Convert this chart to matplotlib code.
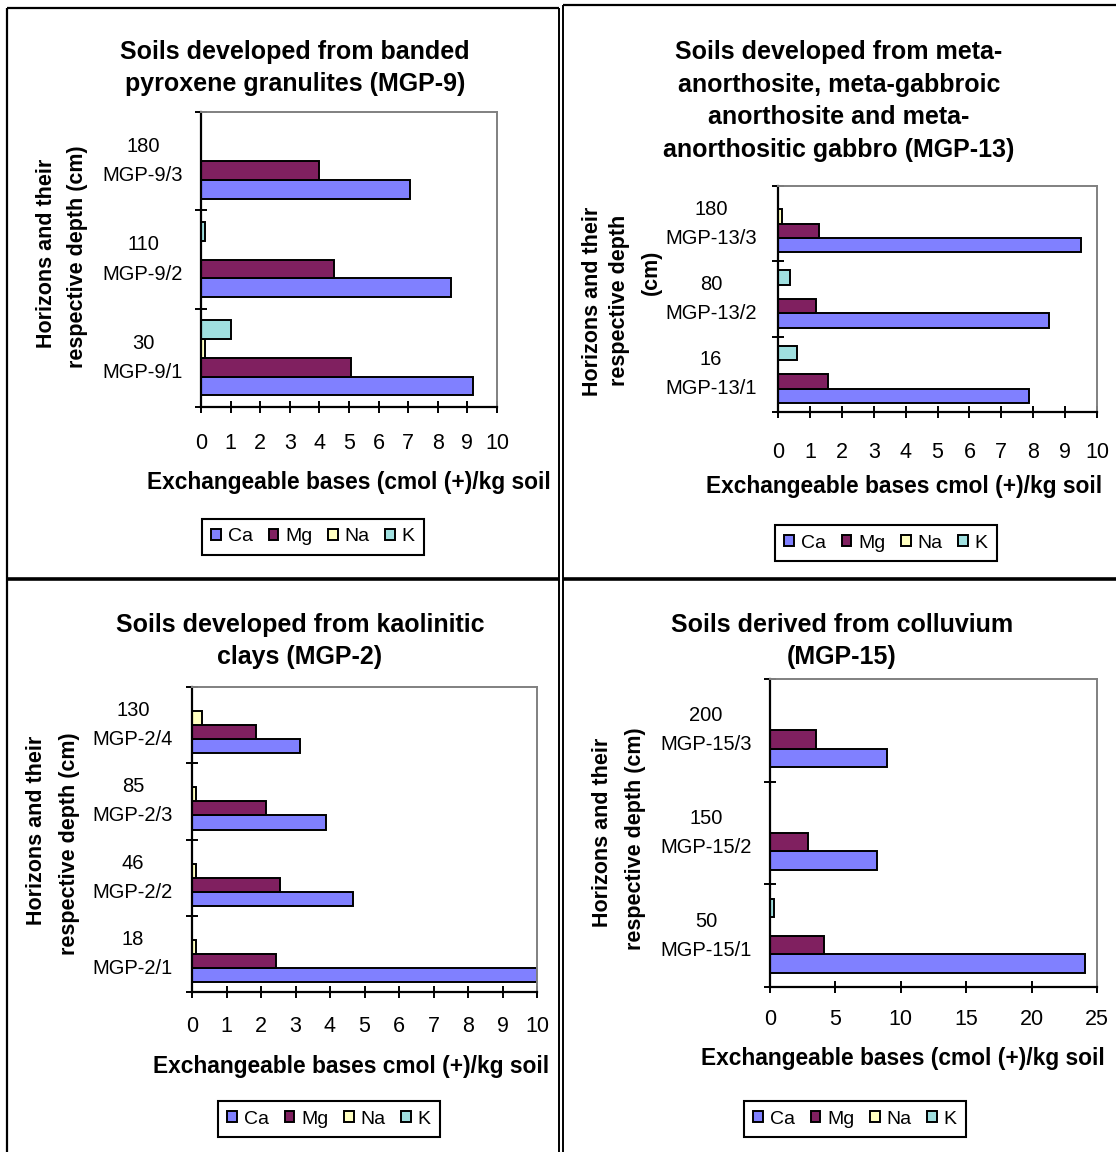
import matplotlib
matplotlib.use("Agg")
import matplotlib.pyplot as plt
from matplotlib.lines import Line2D
import numpy as np

plt.rcParams['font.family'] = ['Liberation Sans', 'DejaVu Sans']

# ---- data: exchangeable bases, cmol(+)/kg soil ----
series = ["Ca", "Mg", "Na", "K"]
colors = ["#8080FF", "#802060", "#FFFFC0", "#A0E0E0"]

# MGP-9 (banded pyroxene granulites)
mgp9_labels = ["30\nMGP-9/1", "110\nMGP-9/2", "180\nMGP-9/3"]
mgp9_ca = [9.2, 8.45, 7.05]
mgp9_mg = [5.07, 4.48, 4.0]
mgp9_na = [0.15, 0.0, 0.0]
mgp9_k = [1.01, 0.15, 0.0]

# MGP-13 (meta-anorthosite group)
mgp13_labels = ["16\nMGP-13/1", "80\nMGP-13/2", "180\nMGP-13/3"]
mgp13_ca = [7.87, 8.5, 9.51]
mgp13_mg = [1.58, 1.2, 1.28]
mgp13_na = [0.0, 0.0, 0.13]
mgp13_k = [0.58, 0.39, 0.0]

# MGP-2 (kaolinitic clays)
mgp2_labels = ["18\nMGP-2/1", "46\nMGP-2/2", "85\nMGP-2/3", "130\nMGP-2/4"]
mgp2_ca = [10.0, 4.68, 3.88, 3.13]
mgp2_mg = [2.43, 2.55, 2.14, 1.85]
mgp2_na = [0.12, 0.12, 0.12, 0.29]
mgp2_k = [0.0, 0.0, 0.0, 0.0]

# MGP-15 (colluvium)
mgp15_labels = ["50\nMGP-15/1", "150\nMGP-15/2", "200\nMGP-15/3"]
mgp15_ca = [24.1, 8.16, 8.93]
mgp15_mg = [4.16, 2.93, 3.55]
mgp15_na = [0.0, 0.0, 0.0]
mgp15_k = [0.33, 0.0, 0.0]

W, H = 1116, 1152
fig = plt.figure(figsize=(W / 100, H / 100), dpi=100)


def px_axes(x0, y0, x1, y1):
    return fig.add_axes([x0 / W, 1 - y1 / H, (x1 - x0) / W, (y1 - y0) / H])


def ftext(x, y, s, **kw):
    kw.setdefault("ha", "center")
    kw.setdefault("va", "center")
    fig.text(x / W, 1 - y / H, s, **kw)


def panel(box, labels, values, xmax, xstep, xpad, ypad, bar_h):
    ax = px_axes(*box)
    n = len(labels)
    y = np.arange(n)
    offsets = (np.arange(4) - 1.5) * bar_h
    for vals, off, col, name in zip(values, offsets, colors, series):
        ax.barh(y + off, vals, height=bar_h, color=col, edgecolor="black",
                linewidth=1.4, label=name, zorder=2)
    ax.set_xlim(0, xmax)
    ax.set_ylim(-0.5, n - 0.5)
    ax.set_xticks(np.arange(0, xmax + 0.001, xstep))
    ax.set_yticks(np.arange(n + 1) - 0.5)
    ax.set_yticklabels([])
    ax.set_yticks(y, minor=True)
    ax.tick_params(axis="y", which="minor", length=0, pad=ypad,
                   labelsize=14.5)
    ax.set_yticklabels(labels, minor=True, ha="center", va="center",
                       linespacing=1.68)
    ax.tick_params(axis="y", which="major", direction="inout", length=8,
                   width=1.4)
    ax.tick_params(axis="x", direction="inout", length=8, width=1.4,
                   pad=xpad, labelsize=15.5)
    for side in ("left", "bottom"):
        ax.spines[side].set_color("black")
        ax.spines[side].set_linewidth(1.6)
    for side in ("top", "right"):
        ax.spines[side].set_color("#808080")
        ax.spines[side].set_linewidth(1.4)
    return ax


def legend(ax, cx, cy):
    leg = ax.legend(loc="center", bbox_to_anchor=(cx / W, 1 - cy / H),
                    bbox_transform=fig.transFigure, ncol=4, fontsize=14,
                    frameon=True, fancybox=False, edgecolor="black",
                    framealpha=1, handlelength=0.5, handleheight=0.5,
                    handletextpad=0.35, columnspacing=0.8, borderpad=0.5,
                    borderaxespad=0)
    leg.get_frame().set_linewidth(1.5)


bold = dict(fontweight="bold")
XL = 16.4
YL = 15.5

# ---- top-left: MGP-9 ----
ax1 = panel((201, 112, 497, 407), mgp9_labels,
            [mgp9_ca, mgp9_mg, mgp9_na, mgp9_k], 10, 1, 15, 41.8, 0.19)
ftext(295, 68, "Soils developed from banded\npyroxene granulites (MGP-9)",
      fontsize=18, linespacing=1.4, **bold)
ftext(349, 482, "Exchangeable bases (cmol (+)/kg soil", fontsize=XL, **bold)
ftext(47, 253, "Horizons and their", rotation=90, fontsize=YL, **bold)
ftext(77, 257, "respective depth (cm)", rotation=90, fontsize=YL, **bold)
legend(ax1, 313, 537)

# ---- top-right: MGP-13 ----
ax2 = panel((778, 186, 1097, 412), mgp13_labels,
            [mgp13_ca, mgp13_mg, mgp13_na, mgp13_k], 10, 1, 17.5, 48.2, 0.19)
ftext(839, 101, "Soils developed from meta-\nanorthosite, meta-gabbroic\n"
      "anorthosite and meta-\nanorthositic gabbro (MGP-13)",
      fontsize=18, linespacing=1.45, **bold)
ftext(904, 486, "Exchangeable bases cmol (+)/kg soil", fontsize=XL, **bold)
ftext(592, 301, "Horizons and their", rotation=90, fontsize=YL, **bold)
ftext(620, 300, "respective depth", rotation=90, fontsize=YL, **bold)
ftext(651, 272, "(cm)", rotation=90, fontsize=YL, **bold)
legend(ax2, 886, 543)

# ---- bottom-left: MGP-2 ----
ax3 = panel((192, 687, 537, 992), mgp2_labels,
            [mgp2_ca, mgp2_mg, mgp2_na, mgp2_k], 10, 1, 13, 42.5, 0.185)
ftext(300, 641, "Soils developed from kaolinitic\nclays (MGP-2)",
      fontsize=18, linespacing=1.45, **bold)
ftext(351, 1066, "Exchangeable bases cmol (+)/kg soil", fontsize=XL, **bold)
ftext(37, 830, "Horizons and their", rotation=90, fontsize=YL, **bold)
ftext(70, 844, "respective depth (cm)", rotation=90, fontsize=YL, **bold)
legend(ax3, 329, 1119)

# ---- bottom-right: MGP-15 ----
ax4 = panel((770, 679, 1097, 987), mgp15_labels,
            [mgp15_ca, mgp15_mg, mgp15_na, mgp15_k], 25, 5, 11.8, 46, 0.18)
ftext(842, 641, "Soils derived from colluvium\n(MGP-15)",
      fontsize=18, linespacing=1.45, **bold)
ftext(903, 1058, "Exchangeable bases (cmol (+)/kg soil", fontsize=XL, **bold)
ftext(603, 832, "Horizons and their", rotation=90, fontsize=YL, **bold)
ftext(635, 839, "respective depth (cm)", rotation=90, fontsize=YL, **bold)
legend(ax4, 855, 1119)


# ---- cell borders of the layout grid ----
def border(x0, y0, x1, y1, lw):
    fig.add_artist(Line2D([x0 / W, x1 / W], [1 - y0 / H, 1 - y1 / H],
                          transform=fig.transFigure, color="black",
                          linewidth=lw, solid_capstyle="butt"))


border(7, 8, 559, 8, 1.6)
border(7, 8, 7, H, 1.6)
border(563, 5, W, 5, 1.6)
border(559, 8, 559, H, 1.4)
border(563, 5, 563, H, 1.4)
border(7, 579, 559, 579, 2.6)
border(563, 579, W, 579, 2.6)

fig.savefig("out.png", dpi=100)
